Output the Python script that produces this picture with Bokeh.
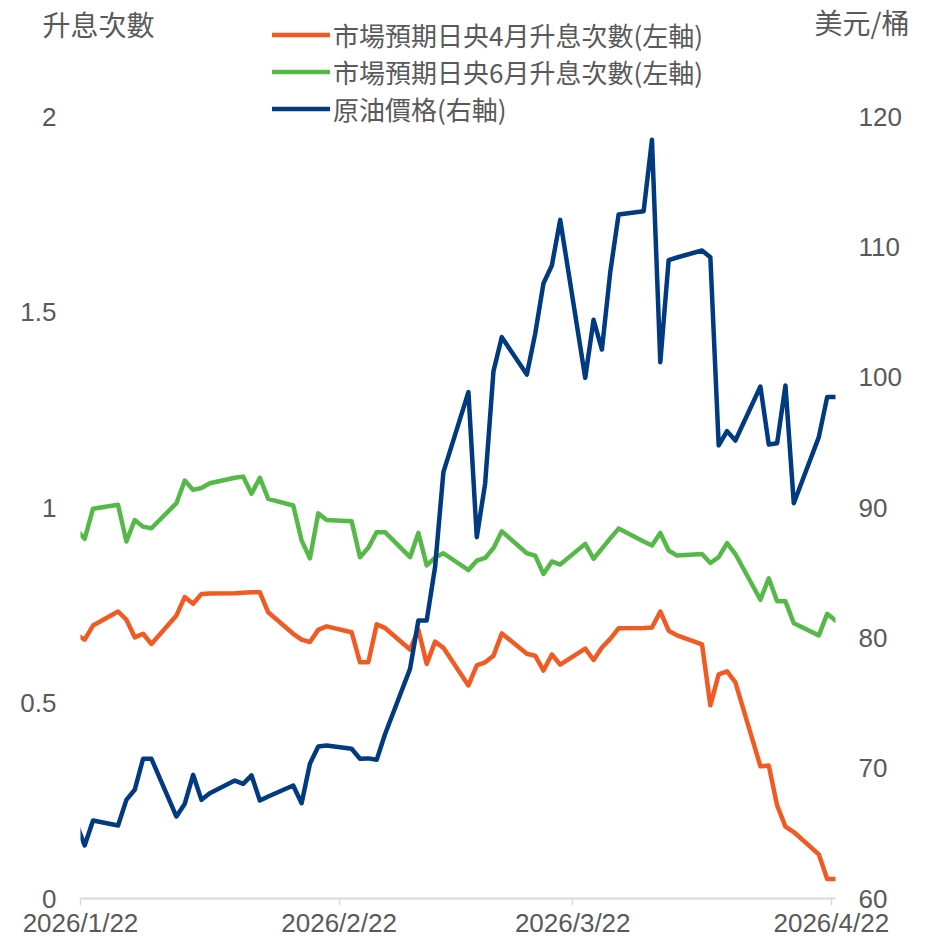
import pandas as pd
from bokeh.plotting import figure
from bokeh.models import (Range1d, LinearAxis, FixedTicker, Legend, LegendItem,
                          ColumnDataSource, NumeralTickFormatter)
from bokeh.embed import file_html
from bokeh.resources import INLINE

# ---------------- data ----------------
dates = [
    "2026-01-21", "2026-01-22", "2026-01-23", "2026-01-26", "2026-01-27", "2026-01-28", "2026-01-29", "2026-01-30",
    "2026-02-02", "2026-02-03", "2026-02-04", "2026-02-05", "2026-02-06", "2026-02-09", "2026-02-10", "2026-02-11",
    "2026-02-12", "2026-02-13", "2026-02-16", "2026-02-17", "2026-02-18", "2026-02-19", "2026-02-20", "2026-02-23",
    "2026-02-24", "2026-02-25", "2026-02-26", "2026-02-27", "2026-03-02", "2026-03-03", "2026-03-04", "2026-03-05",
    "2026-03-06", "2026-03-09", "2026-03-10", "2026-03-11", "2026-03-12", "2026-03-13", "2026-03-16", "2026-03-17",
    "2026-03-18", "2026-03-19", "2026-03-20", "2026-03-23", "2026-03-24", "2026-03-25", "2026-03-26", "2026-03-27",
    "2026-03-30", "2026-03-31", "2026-04-01", "2026-04-02", "2026-04-03", "2026-04-06", "2026-04-07", "2026-04-08",
    "2026-04-09", "2026-04-10", "2026-04-13", "2026-04-14", "2026-04-15", "2026-04-16", "2026-04-17", "2026-04-20",
    "2026-04-21", "2026-04-22",
]

hikes_april = [
    0.675, 0.662, 0.698, 0.734, 0.713, 0.668, 0.677, 0.651,
    0.724, 0.771, 0.754, 0.779, 0.780, 0.781, 0.782, 0.783,
    0.783, 0.732, 0.677, 0.662, 0.656, 0.687, 0.696, 0.681,
    0.604, 0.604, 0.701, 0.692, 0.637, 0.687, 0.600, 0.657,
    0.641, 0.545, 0.596, 0.604, 0.621, 0.678, 0.626, 0.621,
    0.583, 0.624, 0.598, 0.639, 0.610, 0.642, 0.664, 0.691,
    0.692, 0.693, 0.734, 0.685, 0.673, 0.650, 0.494, 0.573,
    0.581, 0.553, 0.338, 0.340, 0.238, 0.184, 0.170, 0.113,
    0.050, 0.050,
]

hikes_june = [
    0.944, 0.920, 0.997, 1.007, 0.913, 0.968, 0.951, 0.947,
    1.011, 1.069, 1.045, 1.050, 1.062, 1.076, 1.079, 1.035,
    1.076, 1.022, 1.005, 0.916, 0.870, 0.985, 0.968, 0.965,
    0.873, 0.897, 0.937, 0.937, 0.873, 0.935, 0.852, 0.872,
    0.883, 0.840, 0.864, 0.871, 0.896, 0.939, 0.883, 0.877,
    0.830, 0.862, 0.854, 0.907, 0.869, 0.895, 0.921, 0.946,
    0.913, 0.903, 0.935, 0.890, 0.877, 0.881, 0.858, 0.873,
    0.909, 0.881, 0.764, 0.819, 0.760, 0.760, 0.704, 0.673,
    0.728, 0.711,
]

oil_price = [
    65.75, 64.07, 65.98, 65.60, 67.57, 68.34, 70.72, 70.72,
    66.29, 67.27, 69.49, 67.57, 68.08, 69.05, 68.80, 69.44,
    67.52, 67.83, 68.67, 67.31, 70.34, 71.66, 71.74, 71.49,
    70.72, 70.75, 70.64, 72.60, 77.62, 81.33, 81.33, 85.42,
    92.71, 98.85, 87.72, 91.82, 100.45, 103.07, 100.20, 103.32,
    107.21, 108.57, 112.07, 99.95, 104.40, 102.12, 108.06, 112.48,
    112.73, 118.21, 101.15, 108.98, 109.18, 109.72, 109.20, 94.76,
    95.86, 95.14, 99.28, 94.83, 94.93, 99.36, 90.33, 95.40,
    98.47, 98.47,
]

series_names = ["市場預期日央4月升息次數(左軸)", "市場預期日央6月升息次數(左軸)", "原油價格(右軸)"]
series_colors = ["#F15A22", "#55B948", "#003A80"]

x_tick_dates = ["2026-01-22", "2026-02-22", "2026-03-22", "2026-04-22"]
x_tick_labels = ["2026/1/22", "2026/2/22", "2026/3/22", "2026/4/22"]
left_ticks = [0, 0.5, 1, 1.5, 2]
right_ticks = [60, 70, 80, 90, 100, 110, 120]
left_title = "升息次數"
right_title = "美元/桶"

# ---------------- layout constants (pixels) ----------------
W, H = 927, 940
MB_L, MB_R, MB_T, MB_B = 80, 92, 10, 42
FB = H - MB_B          # canvas px of value 0 / 60
TOP_TICK_PX = 116      # canvas px of value 2 / 120
TITLE_Y_PX = 21        # vertical centre of the axis titles
LEFT_TITLE_CX = 98     # horizontal centre of the left title
RIGHT_TITLE_X = 811    # left edge of the right title

left_px_per_unit = (FB - TOP_TICK_PX) / (left_ticks[-1] - left_ticks[0])
right_px_per_unit = (FB - TOP_TICK_PX) / (right_ticks[-1] - right_ticks[0])
# the frame reaches near the canvas top so the legend (drawn in it) is not clipped
left_end = left_ticks[-1] + (TOP_TICK_PX - MB_T) / left_px_per_unit
right_end = right_ticks[-1] + (TOP_TICK_PX - MB_T) / right_px_per_unit
right_title_pos = round(right_ticks[-1] + (TOP_TICK_PX - TITLE_Y_PX) / right_px_per_unit, 4)

TXT = "#595959"
NUM_FONT = "Liberation Sans"
CJK_FONT = "Noto Sans CJK TC"
FS = "26px"
FS_TITLE = "28px"

# ---------------- build ----------------
# each date is drawn at the centre of its day slot (Excel date-axis style)
x_vals = pd.to_datetime(dates) + pd.Timedelta(hours=12)
src = ColumnDataSource(dict(x=x_vals, apr=hikes_april, jun=hikes_june, oil=oil_price))

tick_ms = [pd.Timestamp(d).value // 10**6 for d in x_tick_dates]
x_start = pd.Timestamp("2026-01-22")
x_end = pd.Timestamp("2026-04-22") + pd.Timedelta(hours=12)

p = figure(width=W, height=H, x_axis_type="datetime",
           x_range=Range1d(x_start, x_end), y_range=Range1d(left_ticks[0], left_end),
           output_backend="svg", toolbar_location=None,
           min_border_left=MB_L, min_border_right=MB_R,
           min_border_top=MB_T, min_border_bottom=MB_B)
p.extra_y_ranges = {"oil": Range1d(right_ticks[0], right_end)}
p.extra_x_ranges = {"screen": Range1d(MB_L, W - MB_R)}
p.outline_line_color = None
p.xgrid.visible = False
p.ygrid.visible = False
p.background_fill_color = "white"
p.border_fill_color = "white"

r1 = p.line("x", "apr", source=src, color=series_colors[0], line_width=4.5,
            line_join="round", line_cap="round")
r2 = p.line("x", "jun", source=src, color=series_colors[1], line_width=4.5,
            line_join="round", line_cap="round")
r3 = p.line("x", "oil", source=src, color=series_colors[2], line_width=4.5,
            line_join="round", line_cap="round", y_range_name="oil")


def plain_axis(ax, font, standoff, size=FS):
    ax.axis_line_color = None
    ax.major_tick_line_color = None
    ax.minor_tick_line_color = None
    ax.major_tick_out = 0
    ax.major_tick_in = 0
    ax.major_label_standoff = standoff
    ax.major_label_text_font = font
    ax.major_label_text_font_size = size
    ax.major_label_text_color = TXT


# x axis
xa = p.xaxis[0]
xa.ticker = FixedTicker(ticks=tick_ms)
xa.major_label_overrides = {t: l for t, l in zip(tick_ms, x_tick_labels)}
xa.axis_line_color = "#D9D9D9"
xa.axis_line_width = 2
xa.major_tick_line_color = "#D9D9D9"
xa.major_tick_line_width = 1.5
xa.major_tick_in = 0
xa.major_tick_out = 7
xa.minor_tick_line_color = None
xa.major_label_standoff = 2
xa.major_label_text_font = NUM_FONT
xa.major_label_text_font_size = FS
xa.major_label_text_color = TXT

# left axis
ya = p.yaxis[0]
ya.ticker = FixedTicker(ticks=left_ticks)
ya.formatter = NumeralTickFormatter(format="0.[0]")
plain_axis(ya, NUM_FONT, 24)

# right axis
yr = LinearAxis(y_range_name="oil", ticker=FixedTicker(ticks=right_ticks))
plain_axis(yr, NUM_FONT, 23)
p.add_layout(yr, "right")

# right axis title (unit), as a single label of an outer right axis
yr_title = LinearAxis(y_range_name="oil", ticker=FixedTicker(ticks=[right_title_pos]),
                      major_label_overrides={right_title_pos: right_title})
plain_axis(yr_title, CJK_FONT, RIGHT_TITLE_X - (W - MB_R + 66), FS_TITLE)
p.add_layout(yr_title, "right")

# left axis title, as a single label of an axis above the frame
xt = LinearAxis(x_range_name="screen", ticker=FixedTicker(ticks=[LEFT_TITLE_CX]),
                major_label_overrides={LEFT_TITLE_CX: left_title})
plain_axis(xt, CJK_FONT, -33, FS_TITLE)
p.add_layout(xt, "above")

# legend (location = bottom-left corner, frame-relative screen px)
legend = Legend(
    items=[LegendItem(label=series_names[i], renderers=[r]) for i, r in enumerate([r1, r2, r3])],
    location=(272 - MB_L, FB - 127), orientation="vertical",
    glyph_width=58, glyph_height=37, label_height=37, label_standoff=3, spacing=0,
    padding=0, margin=0, border_line_color=None, background_fill_alpha=0,
    label_text_font=CJK_FONT, label_text_font_size=FS, label_text_color=TXT)
p.add_layout(legend)

open("out.html", "w").write(file_html(p, INLINE))
